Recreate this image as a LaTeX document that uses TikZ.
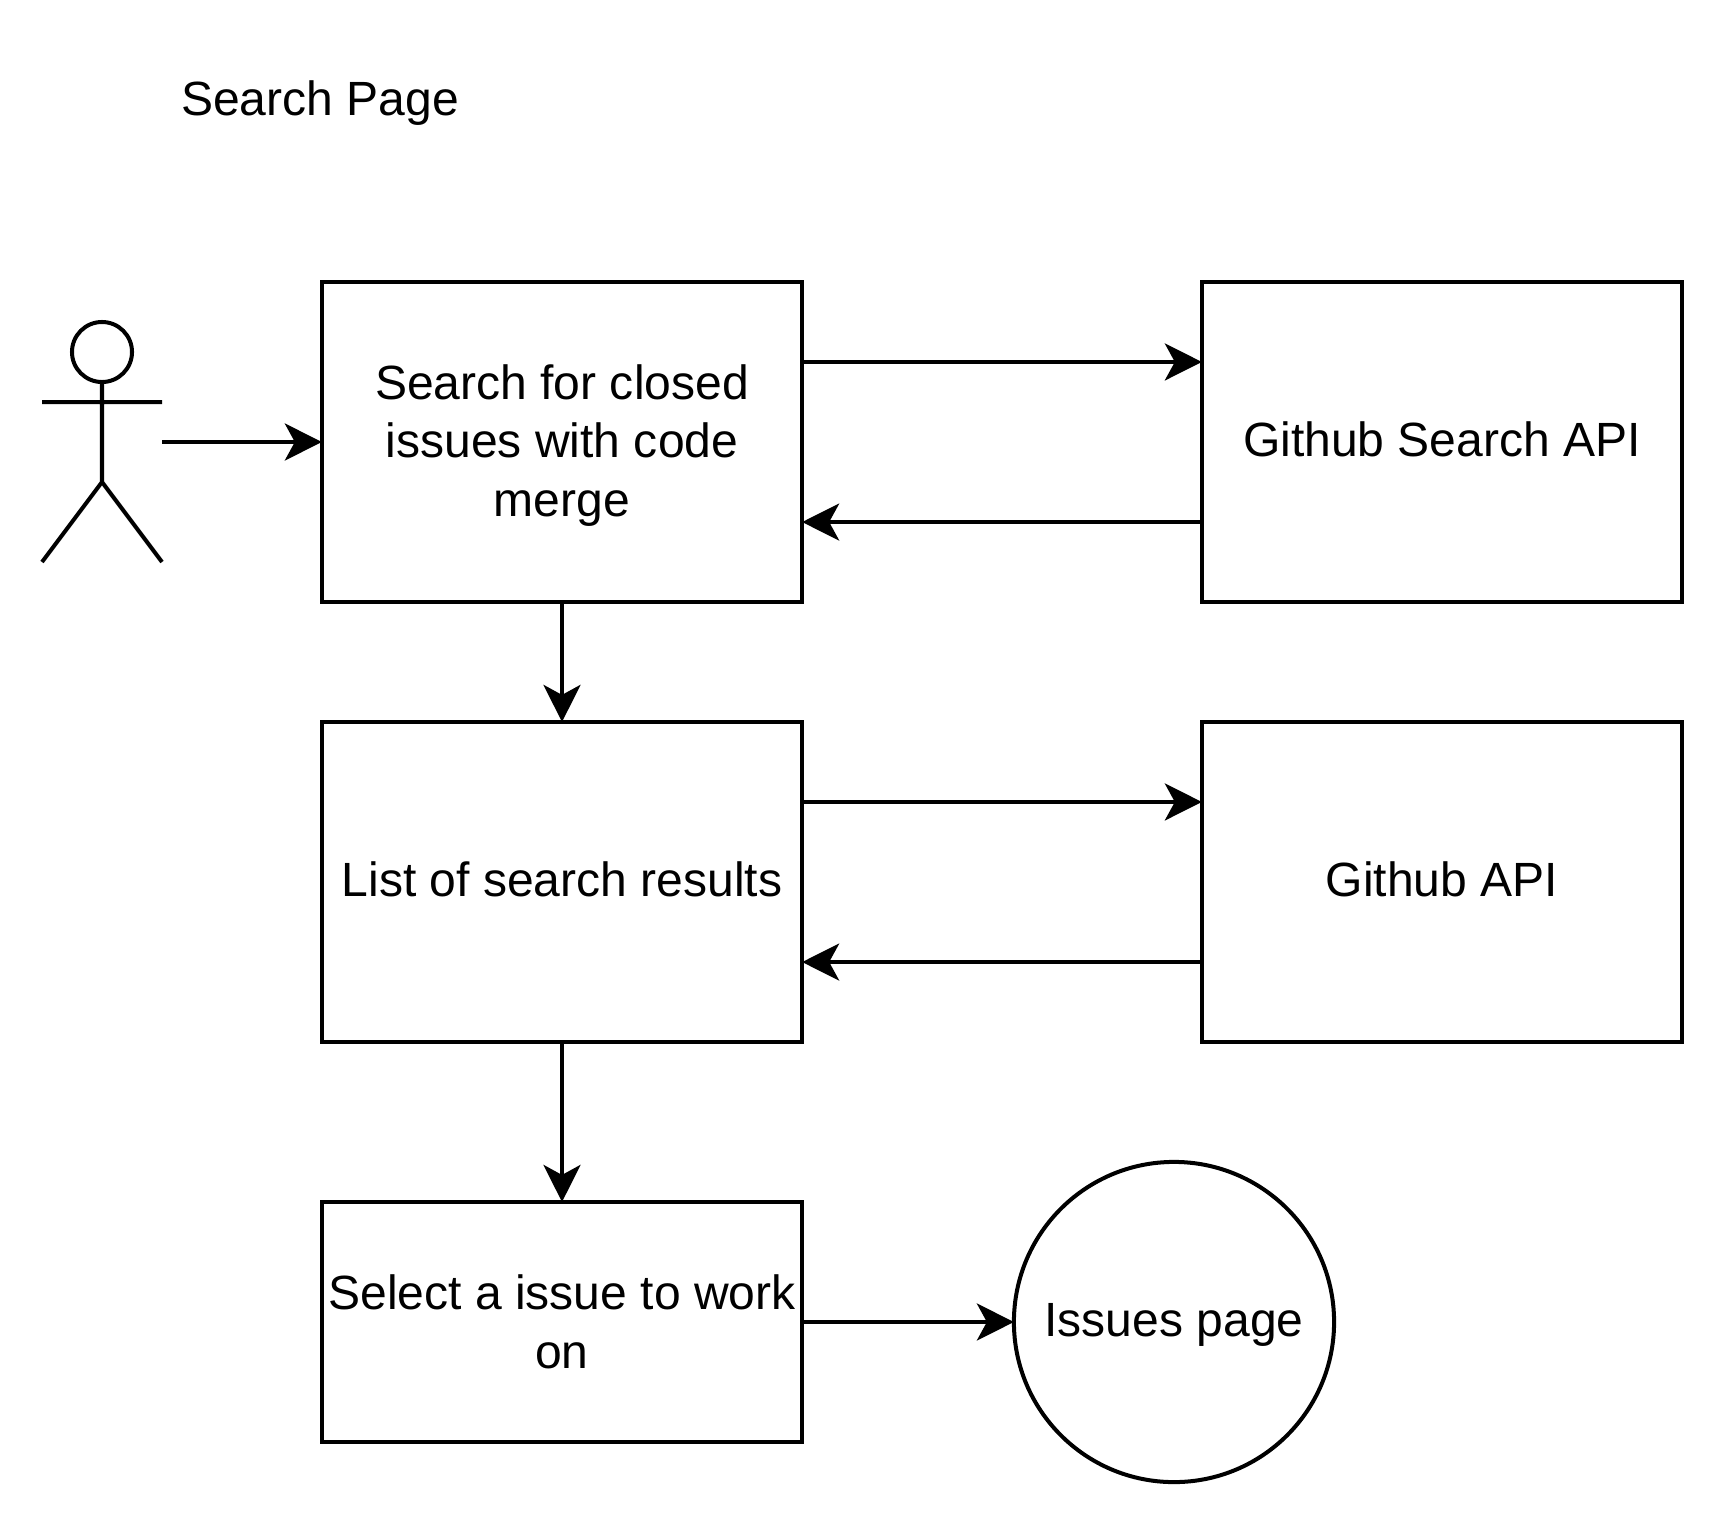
\documentclass[tikz,border=0pt]{standalone}
\usepackage{fontspec}
\setmainfont{Liberation Sans}
\usetikzlibrary{arrows.meta}
\tikzset{
  box/.style={rectangle, draw, line width=1.14pt, minimum width=4.8cm, minimum height=3.2cm, align=center, inner sep=0pt, outer sep=0pt},
  flow/.style={draw, line width=1.14pt, -{Stealth[length=0.37cm, width=0.37cm, inset=0.1cm]}},
  stick/.style={draw, line width=1.14pt}
}
\begin{document}
\begin{tikzpicture}[x=0.01cm, y=-0.01cm, font=\fontsize{13.66}{16.6}\selectfont]
  \useasboundingbox (0,0) rectangle (1724,1524);
  \node (title) at (320,103.5) {Search Page};
  % actor
  \node (head) at (102,352) [circle, draw, line width=1.14pt, minimum size=0.6cm, inner sep=0pt] {};
  \coordinate (hip) at (102,482);
  \coordinate (armL) at (42,402);
  \coordinate (armR) at (162,402);
  \coordinate (legL) at (42,562);
  \coordinate (legR) at (162,562);
  \coordinate (actor) at (162,442);
  \draw[stick] (head) -- (hip) (armL) -- (armR) (legL) -- (hip) -- (legR);
  % boxes
  \node (search) at (562,442) [box, text height=45pt] {Search for closed\\issues with code\\merge};
  \node (gsearch) at (1442,442) [box, text depth=1.9pt] {Github Search API};
  \node (list) at (562,882) [box, text depth=1.9pt] {List of search results};
  \node (gapi) at (1442,882) [box, text depth=1.9pt] {Github API};
  \node (select) at (562,1322) [box, minimum height=2.4cm] {Select a issue to work\\on};
  \node (issues) at (1174,1322) [circle, draw, line width=1.14pt, minimum size=3.2cm, inner sep=0pt, outer sep=0pt, text height=11.2pt] {Issues page};
  \foreach \source/\dest in {actor/search, search/list, list/select, select/issues}
    \path[flow] (\source) -- (\dest);
  \foreach \source/\dest/\shift in {search.east/gsearch.west/0.8cm, gsearch.west/search.east/-0.8cm, list.east/gapi.west/0.8cm, gapi.west/list.east/-0.8cm}
    \path[flow] ([yshift=\shift]\source) -- ([yshift=\shift]\dest);
\end{tikzpicture}
\end{document}
